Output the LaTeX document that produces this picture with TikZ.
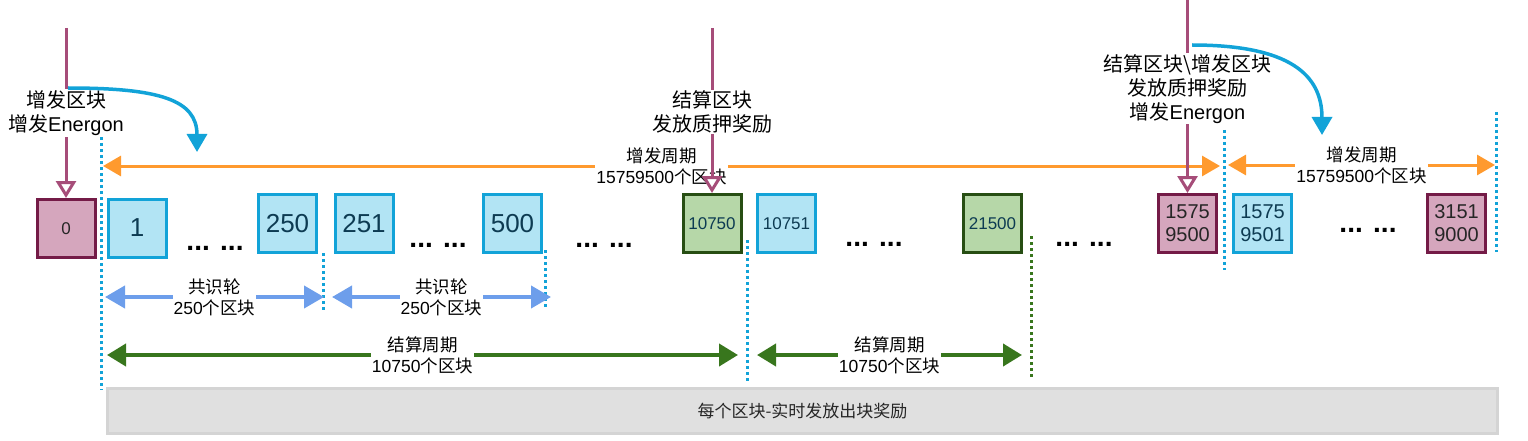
\documentclass[tikz,border=0pt]{standalone}
\usepackage{fontspec}
\setmainfont{Liberation Sans}
\newfontfamily\cjk{Noto Sans CJK SC}
\usetikzlibrary{arrows.meta}

\definecolor{pinkfill}{HTML}{D5A6BD}
\definecolor{pinkline}{HTML}{741B47}
\definecolor{pinkarrow}{HTML}{A64D79}
\definecolor{bluefill}{HTML}{B2E4F4}
\definecolor{blueline}{HTML}{12A3D8}
\definecolor{bluetext}{HTML}{0D3B52}
\definecolor{greenfill}{HTML}{B6D7A8}
\definecolor{greenline}{HTML}{274E13}
\definecolor{greenarrow}{HTML}{38761D}
\definecolor{orangearrow}{HTML}{FF9A2E}
\definecolor{roundarrow}{HTML}{6D9EEB}
\definecolor{barfill}{HTML}{E0E0E0}
\definecolor{barline}{HTML}{D4D4D4}

\begin{document}
\begin{tikzpicture}[x=1pt,y=-1pt,
  block/.style={draw,line width=3pt,minimum size=58pt,inner sep=0pt,align=center},
  pink block/.style={block,draw=pinkline,fill=pinkfill,text=black!85},
  blue block/.style={block,draw=blueline,fill=bluefill,text=bluetext},
  green block/.style={block,draw=greenline,fill=greenfill,text=bluetext},
  big num/.style={font=\fontsize{26}{28}\selectfont},
  small num/.style={font=\fontsize{17}{20}\selectfont},
  two num/.style={font=\fontsize{20}{23}\selectfont},
  dots/.style={font=\fontsize{28}{30}\selectfont\bfseries,inner sep=0pt},
  top label/.style={fill=white,inner sep=1pt,align=center,font=\fontsize{20}{24}\selectfont},
  span label/.style={fill=white,inner sep=1pt,align=center,font=\fontsize{17.5}{21}\selectfont},
  mark arrow/.style={draw=pinkarrow,line width=3pt,-{Triangle[length=17pt,width=20pt,fill=white]}},
  jump arrow/.style={draw=blueline,line width=3.5pt,-{Triangle[length=18pt,width=20pt]}},
  issue arrow/.style={draw=orangearrow,line width=3pt,{Triangle[length=18pt,width=20pt]}-{Triangle[length=18pt,width=20pt]}},
  round arrow/.style={draw=roundarrow,line width=4pt,{Triangle[length=20pt,width=22pt]}-{Triangle[length=20pt,width=22pt]}},
  settle arrow/.style={draw=greenarrow,line width=4pt,{Triangle[length=19pt,width=22pt]}-{Triangle[length=19pt,width=22pt]}},
  sep blue/.style={draw=blueline,line width=3pt,dash pattern=on 3pt off 3pt},
  sep green/.style={draw=greenarrow,line width=3pt,dash pattern=on 3pt off 3pt},
  bar/.style={draw=barline,fill=barfill,line width=3pt,minimum width=1390pt,minimum height=45pt,font=\fontsize{17}{20}\selectfont\cjk,text=black!85}]
  \useasboundingbox (0,0) rectangle (1528,441);

  % blocks
  \node[pink block,small num] (b0) at (66,228.5) {0};
  \node[blue block,big num] (b1) at (137,228) {1};
  \node[blue block,big num] (b250) at (287.5,223.5) {250};
  \node[blue block,big num] (b251) at (364,223.5) {251};
  \node[blue block,big num] (b500) at (512.5,223.5) {500};
  \node[green block,small num] (b10750) at (712,223.5) {10750};
  \node[blue block,small num] (b10751) at (786.5,223.5) {10751};
  \node[green block,small num] (b21500) at (992.5,223.5) {21500};
  \node[pink block,two num] (b15759500) at (1187.5,223.5) {1575\\9500};
  \node[blue block,two num] (b15759501) at (1262.5,223.5) {1575\\9501};
  \node[pink block,two num] (b31519000) at (1456.5,223.5) {3151\\9000};

  \node[dots] (gap1) at (215,248) {... ...};
  \node[dots] (gap2) at (438,245) {... ...};
  \node[dots] (gap3) at (604,245) {... ...};
  \node[dots] (gap4) at (874,244) {... ...};
  \node[dots] (gap5) at (1084,244) {... ...};
  \node[dots] (gap6) at (1368,230) {... ...};

  % separators
  \draw[sep blue] (101,137) -- (101,390);
  \draw[sep blue] (323,253) -- (323,312);
  \draw[sep blue] (545,250) -- (545,308);
  \draw[sep blue] (747,240) -- (747,381);
  \draw[sep green] (1031,236) -- (1031,377);
  \draw[sep blue] (1224,130) -- (1224,270);
  \draw[sep blue] (1496,112) -- (1496,252);

  % spans
  \coordinate (o1l) at (103,166);
  \coordinate (o1r) at (1220,166);
  \coordinate (o2l) at (1228,165);
  \coordinate (o2r) at (1495,165);
  \draw[issue arrow] (o1l) -- node[span label] {{\cjk 增发周期}\\15759500{\cjk 个区块}} (o1r);
  \draw[issue arrow] (o2l) -- node[span label] {{\cjk 增发周期}\\15759500{\cjk 个区块}} (o2r);

  \coordinate (r1l) at (105,297);
  \coordinate (r1r) at (324,297);
  \coordinate (r2l) at (332,297);
  \coordinate (r2r) at (551,297);
  \draw[round arrow] (r1l) -- node[span label] {{\cjk 共识轮}\\250{\cjk 个区块}} (r1r);
  \draw[round arrow] (r2l) -- node[span label] {{\cjk 共识轮}\\250{\cjk 个区块}} (r2r);

  \coordinate (s1l) at (107,355);
  \coordinate (s1r) at (738,355);
  \coordinate (s2l) at (757,355);
  \coordinate (s2r) at (1022,355);
  \draw[settle arrow] (s1l) -- node[span label] {{\cjk 结算周期}\\10750{\cjk 个区块}} (s1r);
  \draw[settle arrow] (s2l) -- node[span label] {{\cjk 结算周期}\\10750{\cjk 个区块}} (s2r);

  % events
  \coordinate (t0) at (66,28);
  \coordinate (t1) at (712,28);
  \coordinate (t2) at (1187.5,0);
  \draw[mark arrow] (t0) -- node[top label,pos=0.5] {{\cjk 增发区块}\\{\cjk 增发}Energon} (b0.north);
  \draw[mark arrow] (t1) -- node[top label,pos=0.51] {{\cjk 结算区块}\\{\cjk 发放质押奖励}} (b10750.north);
  \draw[mark arrow] (t2) -- node[top label,pos=0.46] {{\cjk 结算区块\textbackslash 增发区块}\\{\cjk 发放质押奖励}\\{\cjk 增发}Energon} (b15759500.north);

  \coordinate (j0) at (68,88);
  \coordinate (j0e) at (197,152);
  \coordinate (j1) at (1192,45);
  \coordinate (j1e) at (1322,135);
  \draw[jump arrow] (j0) .. controls (160,88) and (197,100) .. (j0e);
  \draw[jump arrow] (j1) .. controls (1290,45) and (1322,75) .. (j1e);

  % reward bar
  \node[bar] (bar) at (802.5,411) {每个区块-实时发放出块奖励};
\end{tikzpicture}
\end{document}
